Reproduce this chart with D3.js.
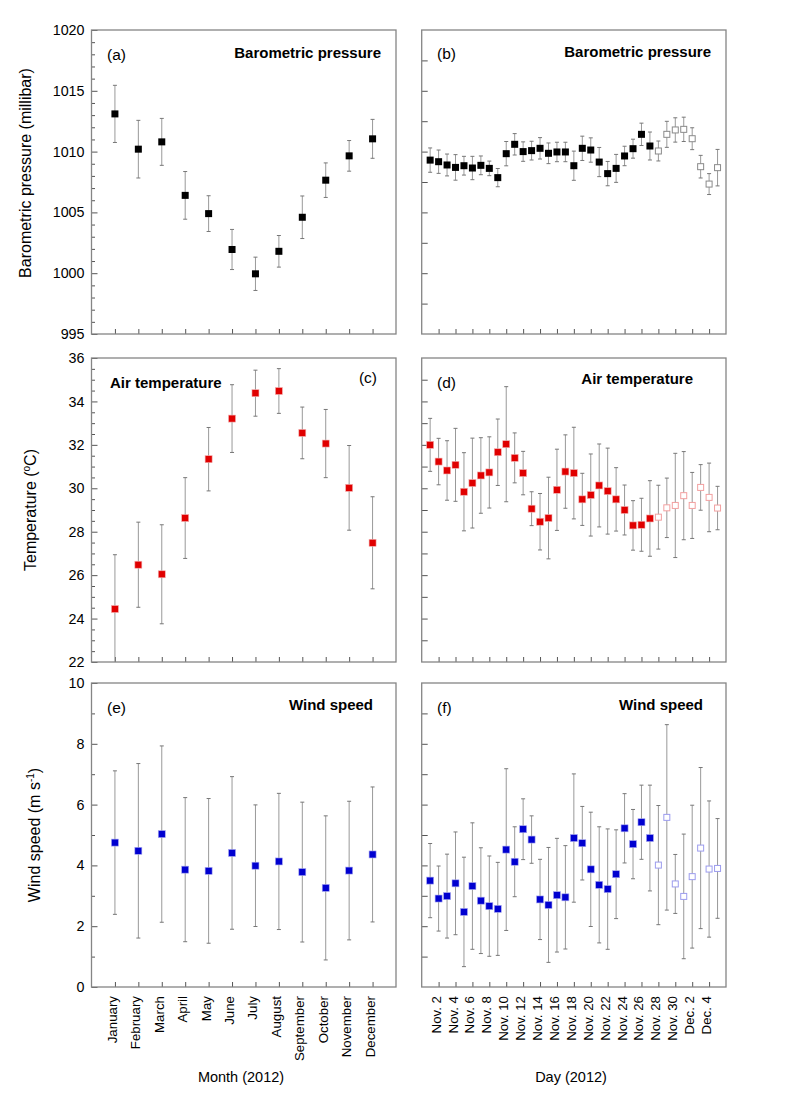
<!DOCTYPE html>
<html><head><meta charset="utf-8">
<script src="https://cdn.jsdelivr.net/npm/d3@7/dist/d3.min.js"></script>
<style>
body{margin:0;background:#fff}
svg{display:block}
text{font-family:"Liberation Sans",Arial,Helvetica,sans-serif;fill:#000}
</style>
</head><body>
<svg id="chart" width="787" height="1109"></svg>
<script>
// ---------------- data ----------------
const months = ["January","February","March","April","May","June","July","August","September","October","November","December"];
const monthNumbers = [1,2,3,4,5,6,7,8,9,10,11,12];

const dayNumbers = [1,2,3,4,5,6,7,8,9,10,11,12,13,14,15,16,17,18,19,20,21,22,23,24,25,26,27,28,29,30,31,32,33,34,35];
const dayTickValues = [2,4,6,8,10,12,14,16,18,20,22,24,26,28,30,32,34];
const dayTickLabels = ["Nov. 2","Nov. 4","Nov. 6","Nov. 8","Nov. 10","Nov. 12","Nov. 14","Nov. 16","Nov. 18","Nov. 20","Nov. 22","Nov. 24","Nov. 26","Nov. 28","Nov. 30","Dec. 2","Dec. 4"];
const filledDayCount = 27; // days after this are drawn as open squares

// (a) monthly barometric pressure
const pressureMonthMean = [1013.1,1010.2,1010.8,1006.4,1004.9,1001.95,999.95,1001.8,1004.6,1007.65,1009.65,1011.05];
const pressureMonthSD   = [2.35,2.37,1.93,1.96,1.47,1.65,1.37,1.3,1.75,1.42,1.26,1.6];
// (b) daily barometric pressure
const pressureDayMean = [1009.3,1009.17,1008.9,1008.7,1008.84,1008.65,1008.87,1008.62,1007.86,1009.83,1010.6,1010.0,1010.08,1010.27,1009.86,1009.97,1009.97,1008.84,1010.27,1010.13,1009.14,1008.19,1008.62,1009.64,1010.24,1011.42,1010.46,
                         1010.05,1011.42,1011.78,1011.83,1011.06,1008.76,1007.33,1008.68];
const pressureDaySD   = [1.0,0.96,0.9,1.05,0.77,0.96,0.77,0.6,0.75,1.0,0.88,0.8,0.77,0.88,0.85,0.8,0.8,1.2,1.0,1.0,1.2,1.0,1.15,0.8,0.78,0.92,1.15,
                         0.82,1.07,1.0,1.0,0.9,0.93,0.86,1.5];

// (c) monthly air temperature
const tempMonthMean = [24.44,26.48,26.04,28.63,31.34,33.21,34.38,34.48,32.55,32.06,30.02,27.49];
const tempMonthSD   = [2.5,1.96,2.28,1.86,1.46,1.56,1.06,1.03,1.19,1.57,1.95,2.12];
// (d) daily air temperature
const tempDayMean = [32.0,31.23,30.82,31.08,29.84,30.24,30.59,30.73,31.66,32.03,31.4,30.7,29.06,28.46,28.63,29.93,30.77,30.7,29.49,29.69,30.13,29.87,29.49,29.0,28.29,28.32,28.61,
                     28.67,29.1,29.21,29.66,29.21,30.04,29.58,29.09];
const tempDaySD   = [1.22,1.07,1.37,1.68,1.8,2.07,1.74,1.64,1.53,2.65,1.15,1.0,0.78,1.3,1.88,1.87,1.69,2.11,1.2,1.89,1.91,1.98,1.46,1.15,1.14,1.22,1.74,
                     1.47,1.37,2.4,2.03,1.52,1.05,1.58,1.0];

// (e) monthly wind speed
const windMonthMean = [4.75,4.48,5.03,3.86,3.82,4.41,3.99,4.13,3.78,3.26,3.83,4.36];
const windMonthSD   = [2.36,2.87,2.9,2.37,2.38,2.51,2.0,2.24,2.3,2.37,2.28,2.22];
// (f) daily wind speed
const windDayMean = [3.5,2.91,2.99,3.41,2.47,3.32,2.84,2.66,2.57,4.52,4.12,5.19,4.85,2.88,2.7,3.02,2.95,4.9,4.73,3.87,3.36,3.22,3.71,5.22,4.7,5.42,4.9,
                     4.01,5.58,3.39,2.98,3.63,4.57,3.88,3.9];
const windDaySD   = [1.22,1.07,1.38,1.69,1.8,2.08,1.74,1.65,1.53,2.66,1.15,1.0,0.78,1.32,1.89,1.87,1.7,2.11,1.21,1.88,1.91,1.98,1.46,1.14,1.14,1.22,1.74,
                     1.96,3.05,0.97,2.05,2.35,2.65,2.24,1.64];

const pressureTicks = [995,1000,1005,1010,1015,1020];
const tempTicks = [22,24,26,28,30,32,34,36];
const windTicks = [0,2,4,6,8,10];

// ---------------- layout ----------------
const svg = d3.select("#chart");
const colX = {left:[91.5,396], right:[421.7,726]};
const rowY = [[30,334],[358,662],[683,987]];
const FRAME = "#858585", TICK = "#555", ERR = "#999";

const xMonth = d3.scaleLinear().domain([0,13]).range(colX.left);
const xDay = d3.scaleLinear().domain([0,36]).range(colX.right);

let clipId = 0;
function panel(o){
  const g = svg.append("g");
  const [x0,x1] = o.x.range();
  const [y1,y0] = o.y.range(); // y range is [bottom, top]
  const id = "clip"+(clipId++);
  g.append("clipPath").attr("id",id).append("rect")
    .attr("x",x0).attr("y",y0).attr("width",x1-x0).attr("height",y1-y0);

  // left ticks
  const majorAxis = d3.axisLeft(o.y).tickValues(o.major).tickSizeInner(-6).tickSizeOuter(0).tickPadding(7)
      .tickFormat(o.labels ? d3.format("d") : "");
  const ga = g.append("g").attr("transform",`translate(${x0},0)`).call(majorAxis);
  ga.select(".domain").remove();
  ga.selectAll("line").attr("stroke",TICK);
  ga.selectAll("text").style("font-size","14.3px").attr("fill","#000");
  if (o.minor){
    const gm = g.append("g").attr("transform",`translate(${x0},0)`)
      .call(d3.axisLeft(o.y).tickValues(o.minor).tickSizeInner(-3.5).tickSizeOuter(0).tickFormat(""));
    gm.select(".domain").remove();
    gm.selectAll("line").attr("stroke",TICK);
  }
  // bottom ticks
  const bAxis = d3.axisBottom(o.x).tickValues(o.xTicks).tickSizeInner(-5).tickSizeOuter(0)
      .tickFormat(o.xLabels ? (d,i)=>o.xLabels[i] : "");
  const gb = g.append("g").attr("transform",`translate(0,${y1})`).call(bAxis);
  gb.select(".domain").remove();
  gb.selectAll("line").attr("stroke",TICK);
  if (o.xLabels){
    gb.selectAll("text")
      .attr("transform","rotate(-90)")
      .attr("x",-9).attr("y",1.5).attr("dy",0)
      .attr("text-anchor","end")
      .style("font-size","13.3px").attr("fill","#000");
  }

  // error bars
  const eg = g.append("g").attr("clip-path",`url(#${id})`);
  const pts = o.xs.map((xv,i)=>({x:xv, m:o.mean[i], s:o.sd[i], open: o.openFrom!=null && i>=o.openFrom}));
  const eb = eg.selectAll("g.eb").data(pts).join("g").attr("class","eb");
  eb.append("line").attr("x1",d=>o.x(d.x)).attr("x2",d=>o.x(d.x))
    .attr("y1",d=>o.y(d.m-d.s)).attr("y2",d=>o.y(d.m+d.s))
    .attr("stroke",ERR).attr("stroke-width",1);
  [1,-1].forEach(sgn=>{
    eb.append("line").attr("x1",d=>o.x(d.x)-2).attr("x2",d=>o.x(d.x)+2)
      .attr("y1",d=>o.y(d.m+sgn*d.s)).attr("y2",d=>o.y(d.m+sgn*d.s))
      .attr("stroke","#777").attr("stroke-width",1);
  });

  // markers
  const S = 7;
  g.selectAll("rect.pt").data(pts).join("rect").attr("class","pt")
    .attr("x",d=>o.x(d.x)-(d.open?3:S/2)).attr("y",d=>o.y(d.m)-(d.open?3:S/2))
    .attr("width",d=>d.open?6:S).attr("height",d=>d.open?6:S)
    .attr("fill",d=>d.open?"#fff":o.color)
    .attr("stroke",d=>d.open?o.openColor:(o.edge||"none"))
    .attr("stroke-width",d=>d.open?1:0.6);

  // frame
  g.append("rect").attr("x",x0).attr("y",y0).attr("width",x1-x0).attr("height",y1-y0)
    .attr("fill","none").attr("stroke",FRAME).attr("stroke-width",1.3);

  // panel texts
  g.append("text").attr("x",o.tag[0]).attr("y",o.tag[1]).style("font-size","15.5px").text(o.tagText)
    .attr("text-anchor",o.tag[2]||"start");
  g.append("text").attr("x",o.title[0]).attr("y",o.title[1]).style("font-size","15px").style("font-weight","bold")
    .attr("text-anchor",o.title[2]).text(o.titleText);
}

const range = (a,b,s)=>d3.range(a,b+s/2,s);

const yP = d3.scaleLinear().domain([995,1020]).range(rowY[0].slice().reverse());
const yT = d3.scaleLinear().domain([22,36]).range(rowY[1].slice().reverse());
const yW = d3.scaleLinear().domain([0,10]).range(rowY[2].slice().reverse());

// (a)
panel({x:xMonth,y:yP,major:pressureTicks,minor:range(996,1019,1).filter(v=>v%5),labels:true,
  xTicks:monthNumbers,xs:monthNumbers,mean:pressureMonthMean,sd:pressureMonthSD,color:"#000",
  tag:[107,60],tagText:"(a)",title:[381,58,"end"],titleText:"Barometric pressure"});
// (b)
panel({x:xDay,y:yP,major:range(997.5,1017.5,2.5),labels:false,
  xTicks:dayTickValues,xs:dayNumbers,mean:pressureDayMean,sd:pressureDaySD,color:"#000",
  openFrom:filledDayCount,openColor:"#8a8a8a",
  tag:[437,59],tagText:"(b)",title:[711,57,"end"],titleText:"Barometric pressure"});
// (c)
panel({x:xMonth,y:yT,major:tempTicks,minor:range(22.5,35.5,0.5).filter(v=>v%2),labels:true,
  xTicks:monthNumbers,xs:monthNumbers,mean:tempMonthMean,sd:tempMonthSD,color:"#e00000",edge:"#f3b0b0",
  tag:[377,383,"end"],tagText:"(c)",title:[110,388,"start"],titleText:"Air temperature"});
// (d)
panel({x:xDay,y:yT,major:range(23,35,1),labels:false,
  xTicks:dayTickValues,xs:dayNumbers,mean:tempDayMean,sd:tempDaySD,color:"#e00000",edge:"#f3b0b0",
  openFrom:filledDayCount,openColor:"#f2a0a0",
  tag:[437,388],tagText:"(d)",title:[693,384,"end"],titleText:"Air temperature"});
// (e)
panel({x:xMonth,y:yW,major:windTicks,minor:range(1,9,2),labels:true,
  xTicks:monthNumbers,xLabels:months,xs:monthNumbers,mean:windMonthMean,sd:windMonthSD,color:"#0000d0",edge:"#a8a8f0",
  tag:[107,713],tagText:"(e)",title:[373,710,"end"],titleText:"Wind speed"});
// (f)
panel({x:xDay,y:yW,major:range(1,9,1),labels:false,
  xTicks:dayTickValues,xLabels:dayTickLabels,xs:dayNumbers,mean:windDayMean,sd:windDaySD,color:"#0000d0",edge:"#a8a8f0",
  openFrom:filledDayCount,openColor:"#9c9cee",
  tag:[437,713],tagText:"(f)",title:[703,710,"end"],titleText:"Wind speed"});

// axis titles
function yTitle(x,y,build){
  const t = svg.append("text").attr("transform",`translate(${x},${y}) rotate(-90)`)
    .attr("text-anchor","middle").style("font-size","16px");
  build(t);
}
yTitle(31,173,t=>t.text("Barometric pressure (millibar)"));
yTitle(36,510,t=>{t.append("tspan").text("Temperature (");
  t.append("tspan").text("o").style("font-size","10px").attr("dy","-6");
  t.append("tspan").text("C)").attr("dy","6");});
yTitle(40,835,t=>{t.append("tspan").text("Wind speed (m s");
  t.append("tspan").text("-1").style("font-size","10px").attr("dy","-6");
  t.append("tspan").text(")").attr("dy","6");});

svg.append("text").attr("x",241).attr("y",1082).attr("text-anchor","middle").style("font-size","14.5px").text("Month (2012)");
svg.append("text").attr("x",571).attr("y",1082).attr("text-anchor","middle").style("font-size","14.5px").text("Day (2012)");
</script>
</body></html>
